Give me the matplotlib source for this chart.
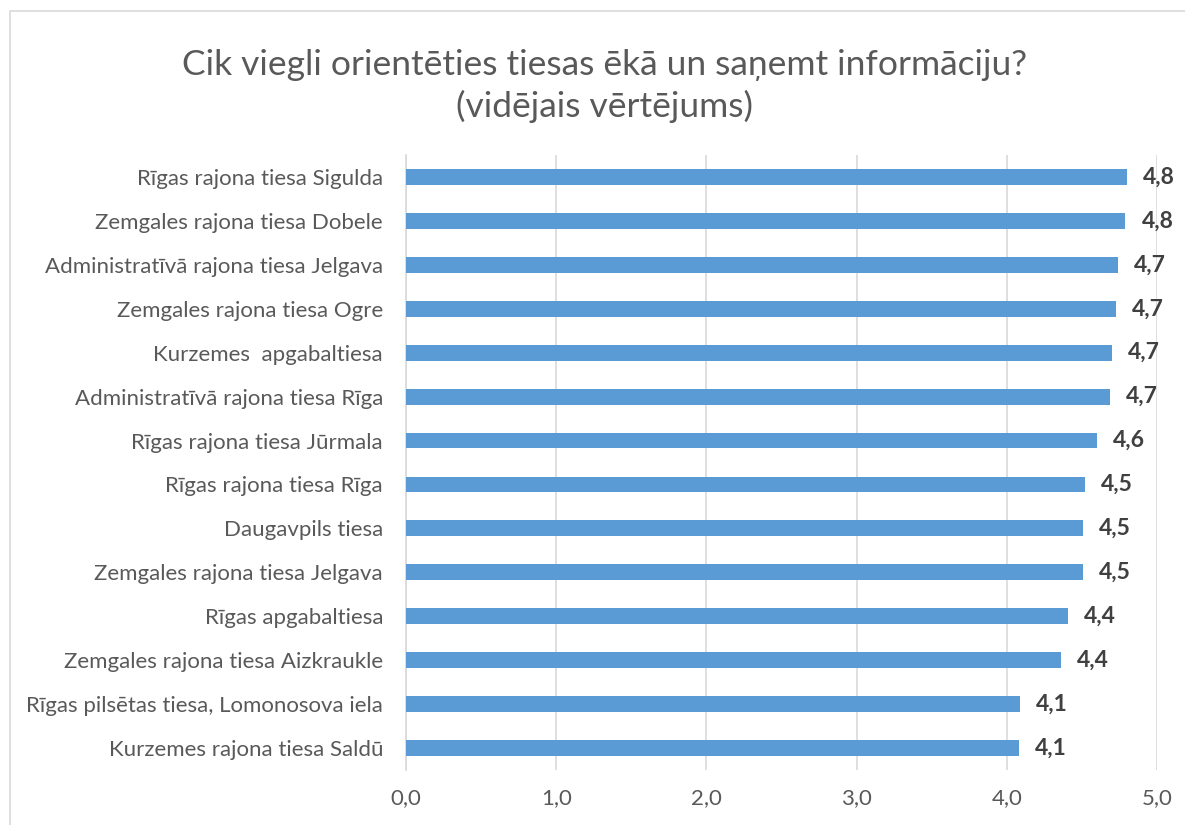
import matplotlib
matplotlib.use("Agg")
import matplotlib.pyplot as plt
from matplotlib.patches import Rectangle

categories = [
    "Rīgas rajona tiesa Sigulda",
    "Zemgales rajona tiesa Dobele",
    "Administratīvā rajona tiesa Jelgava",
    "Zemgales rajona tiesa Ogre",
    "Kurzemes  apgabaltiesa",
    "Administratīvā rajona tiesa Rīga",
    "Rīgas rajona tiesa Jūrmala",
    "Rīgas rajona tiesa Rīga",
    "Daugavpils tiesa",
    "Zemgales rajona tiesa Jelgava",
    "Rīgas apgabaltiesa",
    "Zemgales rajona tiesa Aizkraukle",
    "Rīgas pilsētas tiesa, Lomonosova iela",
    "Kurzemes rajona tiesa Saldū",
]
values = [4.80, 4.79, 4.74, 4.73, 4.70, 4.69, 4.60, 4.52, 4.51, 4.51, 4.41, 4.36, 4.09, 4.08]
xticks = [0, 1, 2, 3, 4, 5]
title_lines = ["Cik viegli orientēties tiesas ēkā un saņemt informāciju?", "(vidējais vērtējums)"]

plt.rcParams['font.family'] = ['Lato', 'DejaVu Sans']

W, H = 1185, 825
fig = plt.figure(figsize=(W / 100, H / 100), dpi=100)

# chart border
fig.patches.append(Rectangle((10 / W, -0.01), 1.05, 1 - 11 / H + 0.01, transform=fig.transFigure,
                             fill=False, edgecolor="#d9d9d9", linewidth=1.2))

ax = fig.add_axes([406 / W, 1 - 770 / H, (1157 - 406) / W, (770 - 155) / H])

n = len(categories)
ypos = list(range(n))
ax.barh(ypos, values, height=0.36, color="#5b9bd5", zorder=3)
ax.set_ylim(n - 0.5, -0.5)
ax.set_xlim(0, 5)
ax.set_yticks(ypos)
ax.set_yticklabels(categories, fontsize=16, color="#595959")
ax.set_xticks(xticks)
ax.set_xticklabels([f"{t:.1f}".replace(".", ",") for t in xticks], fontsize=16, color="#595959")
ax.tick_params(axis="both", length=0)
ax.tick_params(axis="y", pad=16.5)
ax.tick_params(axis="x", pad=13)
ax.grid(axis="x", color="#d9d9d9", linewidth=1.2, zorder=0)
for s in ["top", "right", "bottom"]:
    ax.spines[s].set_visible(False)
ax.spines["left"].set_color("#d9d9d9")
ax.spines["left"].set_linewidth(1.2)

for y, v in zip(ypos, values):
    ax.annotate(f"{v:.1f}".replace(".", ","), xy=(v, y), xytext=(11.5, 0), textcoords="offset points",
                va="center", ha="left", fontsize=16.5, fontweight="bold", color="#404040")

fig.text(605 / W, 1 - 65 / H, title_lines[0], ha="center", va="center", fontsize=25.5, color="#595959")
fig.text(605 / W, 1 - 106 / H, title_lines[1], ha="center", va="center", fontsize=25.5, color="#595959")

fig.savefig("out.png", dpi=100)
